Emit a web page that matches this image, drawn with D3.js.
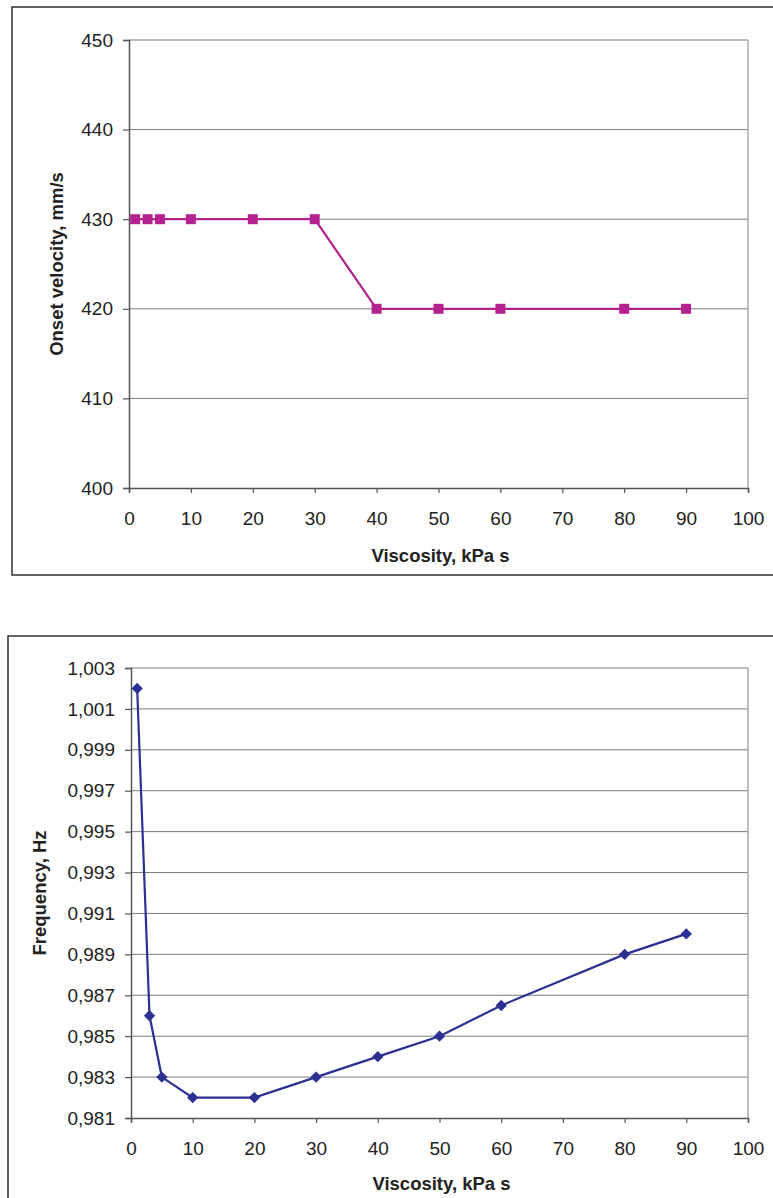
<!DOCTYPE html>
<html>
<head>
<meta charset="utf-8">
<script src="https://cdn.jsdelivr.net/npm/d3@7"></script>
<style>
  body { margin: 0; background: #fff; }
  svg { display: block; font-family: "Liberation Sans", Arial, sans-serif; }
</style>
</head>
<body>
<svg id="chart" width="773" height="1198"></svg>
<script>
// data
const viscosity = [1, 3, 5, 10, 20, 30, 40, 50, 60, 80, 90];
const onsetVelocity = [430, 430, 430, 430, 430, 430, 420, 420, 420, 420, 420];
const frequency = [1.002, 0.986, 0.983, 0.982, 0.982, 0.983, 0.984, 0.985, 0.9865, 0.989, 0.990];

const xTicks = [0, 10, 20, 30, 40, 50, 60, 70, 80, 90, 100];
const velTicks = [400, 410, 420, 430, 440, 450];
const freqTicks = [0.981, 0.983, 0.985, 0.987, 0.989, 0.991, 0.993, 0.995, 0.997, 0.999, 1.001, 1.003];

const svg = d3.select("#chart");

function drawPanel(opt) {
  // outer frame
  svg.append("rect")
     .attr("x", opt.frame[0]).attr("y", opt.frame[1])
     .attr("width", opt.frame[2]).attr("height", opt.frame[3])
     .attr("fill", "none").attr("stroke", "#222").attr("stroke-width", 1.4);

  const x = d3.scaleLinear().domain([0, 100]).range([opt.left, opt.right]);
  const y = d3.scaleLinear().domain(opt.yDomain).range([opt.bottom, opt.top]);

  const g = svg.append("g");

  // gridlines
  g.selectAll(".grid")
   .data(opt.yTicks.slice(1))
   .join("line")
   .attr("x1", opt.left).attr("x2", opt.right)
   .attr("y1", d => y(d)).attr("y2", d => y(d))
   .attr("stroke", "#7a7a7a").attr("stroke-width", 1);

  // right border of plot
  g.append("line")
   .attr("x1", opt.right).attr("x2", opt.right)
   .attr("y1", opt.top).attr("y2", opt.bottom)
   .attr("stroke", "#aaa").attr("stroke-width", 1.5);

  // axes
  const xAxis = g.append("g")
    .attr("transform", "translate(0," + opt.bottom + ")")
    .call(d3.axisBottom(x).tickValues(xTicks).tickSize(5).tickPadding(19));
  const yAxis = g.append("g")
    .attr("transform", "translate(" + opt.left + ",0)")
    .call(d3.axisLeft(y).tickValues(opt.yTicks).tickSize(6).tickPadding(10).tickFormat(opt.fmt));

  [xAxis, yAxis].forEach(a => {
    a.attr("font-size", 19).attr("font-family", "'Liberation Sans', Arial, sans-serif");
    a.select(".domain").attr("stroke", "#555").attr("stroke-width", 1.5);
    a.selectAll(".tick line").attr("stroke", "#555").attr("stroke-width", 1.2);
    a.selectAll("text").attr("fill", "#222");
  });

  // line
  const line = d3.line().x((d, i) => x(viscosity[i])).y(d => y(d));
  g.append("path")
   .datum(opt.values)
   .attr("fill", "none")
   .attr("stroke", opt.color)
   .attr("stroke-width", 2.2)
   .attr("d", line);

  // markers
  g.selectAll(".mk")
   .data(opt.values)
   .join("path")
   .attr("transform", (d, i) => "translate(" + x(viscosity[i]) + "," + y(d) + ")" + (opt.diamond ? " rotate(45)" : ""))
   .attr("d", opt.diamond ? "M-4,-4H4V4H-4Z" : "M-5,-5H5V5H-5Z")
   .attr("fill", opt.color);

  // axis titles
  svg.append("text")
     .attr("x", (opt.left + opt.right) / 2 + 2).attr("y", opt.xTitleY)
     .attr("text-anchor", "middle")
     .attr("font-size", 18.5).attr("font-weight", "bold").attr("fill", "#222")
     .text("Viscosity, kPa s");

  svg.append("text")
     .attr("transform", "translate(" + opt.yTitleX + "," + (opt.top + opt.bottom) / 2 + ") rotate(-90)")
     .attr("text-anchor", "middle")
     .attr("font-size", 18.5).attr("font-weight", "bold").attr("fill", "#222")
     .text(opt.yTitle);
}

drawPanel({
  frame: [12, 7, 780, 568],
  left: 129, right: 748, top: 40, bottom: 488,
  yDomain: [400, 450], yTicks: velTicks, fmt: d3.format("d"),
  values: onsetVelocity, color: "#b5218f", diamond: false,
  xTitleY: 562, yTitleX: 63, yTitle: "Onset velocity, mm/s"
});

drawPanel({
  frame: [8, 636, 780, 580],
  left: 131, right: 748, top: 668, bottom: 1118,
  yDomain: [0.981, 1.003], yTicks: freqTicks,
  fmt: d => d3.format(".3f")(d).replace(".", ","),
  values: frequency, color: "#2b3092", diamond: true,
  xTitleY: 1190, yTitleX: 46, yTitle: "Frequency, Hz"
});
</script>
</body>
</html>
